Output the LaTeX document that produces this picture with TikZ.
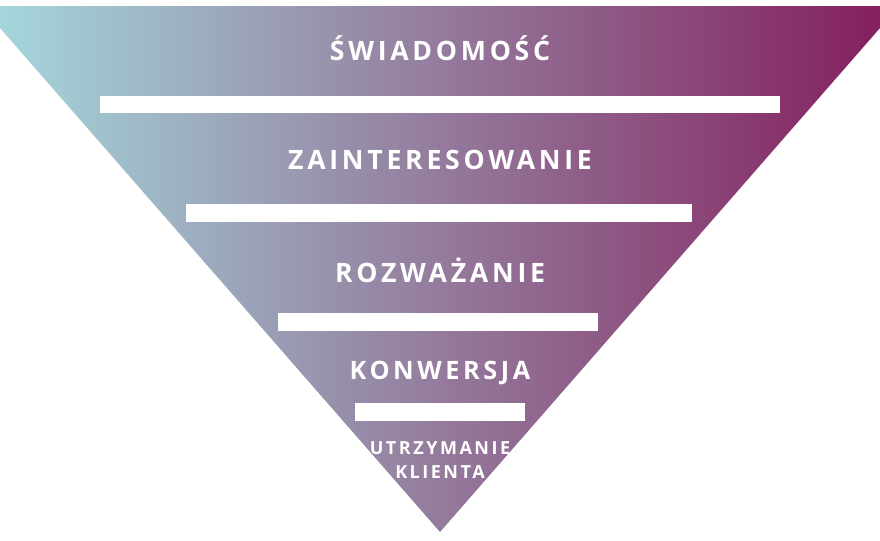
\documentclass[tikz,border=0pt]{standalone}
\usepackage{fontspec}
\setmainfont{Open Sans}[BoldFont={Open Sans Bold}]
\newfontfamily\funnelfont{Open Sans}[LetterSpace=14]
\definecolor{funnelleft}{RGB}{164,214,219}
\definecolor{funnelmid}{RGB}{152,138,168}
\definecolor{funnelright}{RGB}{132,32,94}

\tikzset{every picture/.style={line width=0.75pt}}
\tikzset{
  stagelabel/.style={text=white, font=\funnelfont\bfseries\fontsize{20}{24}\selectfont, inner sep=0pt},
  smalllabel/.style={text=white, font=\funnelfont\bfseries\fontsize{13.5}{18}\selectfont, inner sep=0pt, align=center},
  stagebar/.style={fill=white, draw=none}
}

\begin{document}
\begin{tikzpicture}[x=0.75pt,y=0.75pt,yscale=-1,xscale=1]
	\useasboundingbox (0,0) rectangle (880,540);

	%Shape: Funnel
	\shade [left color=funnelleft, middle color=funnelmid, right color=funnelright] (0,6) -- (880,6) -- (880,28) -- (440,532) -- (0,28) -- cycle ;

	%Shape: Bars
	\fill [stagebar] (100,96) rectangle (780,113) ;
	\fill [stagebar] (186,204) rectangle (692,222) ;
	\fill [stagebar] (278,313) rectangle (598,331) ;
	\fill [stagebar] (355,403) rectangle (525,421) ;

	% Text Node
	\node [stagelabel] (aware) at (440,48) {ŚWIADOMOŚĆ};
	% Text Node
	\node [stagelabel] (interest) at (440,160) {ZAINTERESOWANIE};
	% Text Node
	\node [stagelabel] (consider) at (440,270) {ROZWAŻANIE};
	% Text Node
	\node [stagelabel, font=\funnelfont\bfseries\fontsize{19}{22}\selectfont] (convert) at (440,373) {KONWERSJA};
	% Text Node
	\node [smalllabel] (retain) at (440,460) {UTRZYMANIE\\KLIENTA};

\end{tikzpicture}
\end{document}
